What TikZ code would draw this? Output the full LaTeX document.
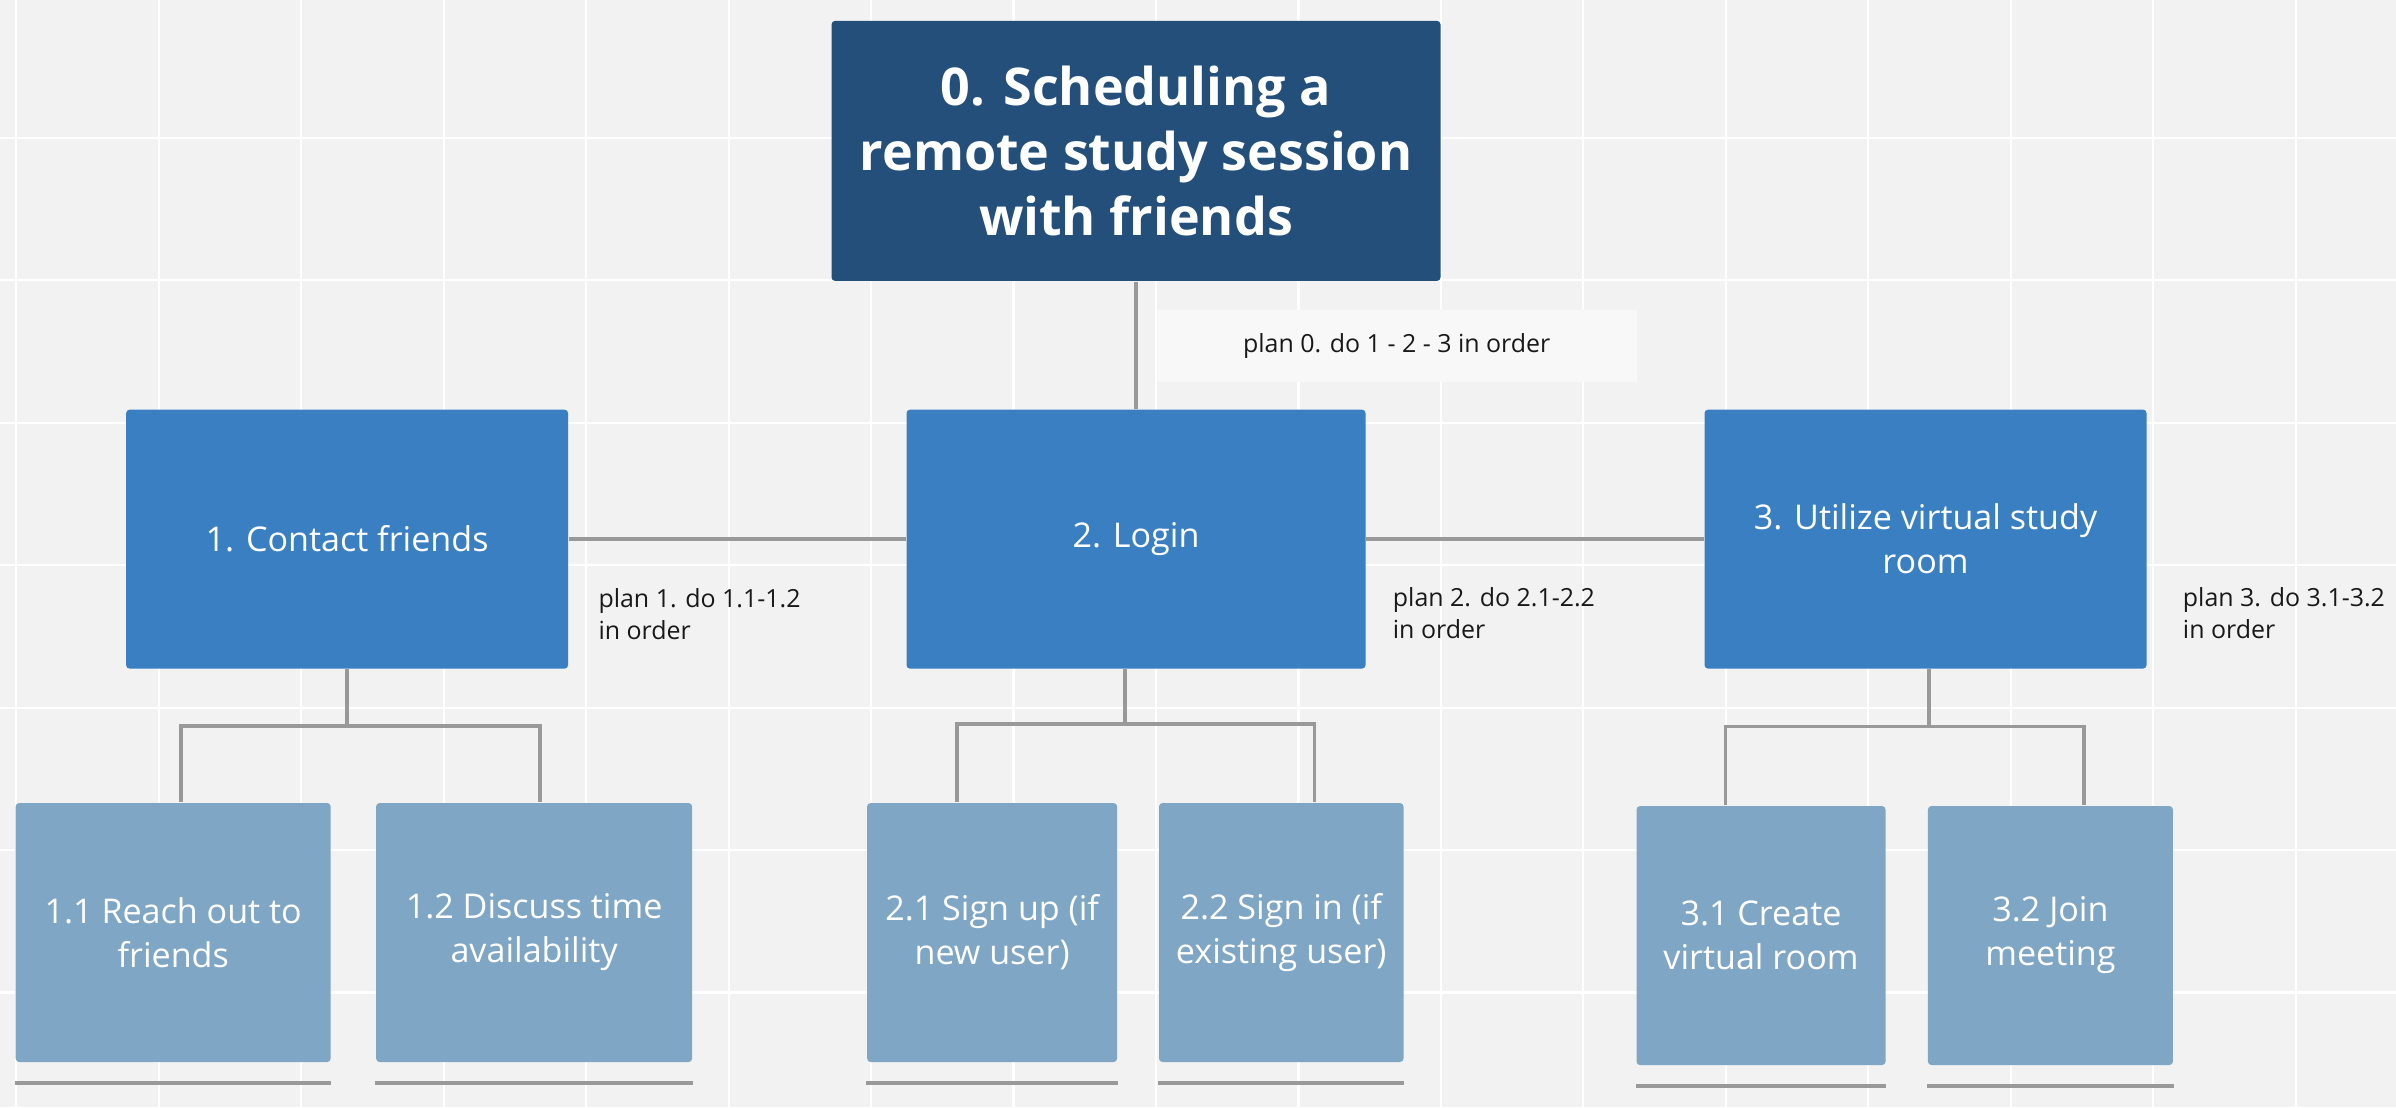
\documentclass[tikz,border=0pt]{standalone}
\usepackage{fontspec}
\setmainfont{Open Sans}
\usepackage{xcolor}
\usepackage{tikz}
\usetikzlibrary{positioning, calc}
\definecolor{rootblue}{HTML}{234F7A}
\definecolor{taskblue}{HTML}{3A7FC2}
\definecolor{subblue}{HTML}{7FA6C4}
\definecolor{linkgray}{HTML}{999999}
\definecolor{canvas}{HTML}{F2F2F2}
\definecolor{planbg}{HTML}{F8F8F8}

\begin{document}
\begin{tikzpicture}[
    node distance=1cm and 1.5cm,
    every node/.style={font=\fontsize{9.7}{12.5}\selectfont},
    box/.style={rectangle, rounded corners=1pt, align=center, text=white,
                inner sep=0pt, minimum height=2.59cm},
    root/.style={box, fill=rootblue, minimum width=6.09cm, minimum height=2.6cm,
                 font=\fontsize{14.8}{18.5}\selectfont\bfseries},
    task/.style={box, fill=taskblue, minimum width=4.42cm},
    subtask/.style={box, fill=subblue},
    link/.style={draw=linkgray, line width=1pt},
    bar/.style={draw=linkgray, line width=1.1pt},
    plan/.style={font=\fontsize{7.1}{9}\selectfont, align=left,
                 inner sep=0pt, text=black!90},
    gridline/.style={draw=white, line width=0.6pt}
]

% Canvas
\useasboundingbox (0,0) rectangle (23.96,-11.07);
\fill[canvas] (0,0) rectangle (23.96,-11.07);
\foreach \i in {0,...,16}
    \draw[gridline] ({0.163+1.4246*\i},0) -- ++(0,-11.07);
\foreach \j in {0,...,6}
    \draw[gridline] (0,{-1.377-1.4246*\j}) -- ++(23.96,0);

% Goal
\node[root] (root) at (11.36,-1.509)
    {0. Scheduling a\\remote study session\\with friends};

% Tasks
\node[task, minimum width=4.59cm, below=1.273cm of root] (login) {2. Login};
\node[task, left=3.37cm of login] (contact) {1. Contact friends};
\node[task, right=3.376cm of login] (room) {3. Utilize virtual study\\room};

% Subtasks
\node[subtask, minimum width=3.15cm, below left=1.33cm and -2.06cm of contact] (reach)
    {1.1 Reach out to\\friends};
\node[subtask, minimum width=3.16cm, right=0.44cm of reach] (discuss)
    {1.2 Discuss time\\availability};
\node[subtask, minimum width=2.5cm, below left=1.33cm and -2.12cm of login] (signup)
    {2.1 Sign up (if\\new user)};
\node[subtask, minimum width=2.445cm, right=0.405cm of signup] (signin)
    {2.2 Sign in (if\\existing user)};
\node[subtask, minimum width=2.49cm, below left=1.36cm and -1.824cm of room] (create)
    {3.1 Create\\virtual room};
\node[subtask, minimum width=2.45cm, right=0.41cm of create] (join)
    {3.2 Join\\meeting};

% Connectors
\draw[link] (root.south) -- (login.north);
\draw[link] (contact) -- (login);
\draw[link] (login) -- (room);

\draw[link] (contact.south) -- ++(0,-0.565) coordinate (jc);
\draw[link] (jc) -| ([xshift=0.08cm]reach.north);
\draw[link] (jc) -| ([xshift=0.06cm]discuss.north);
\draw[link] ([xshift=-0.11cm]login.south) -- ++(0,-0.545) coordinate (jl);
\draw[link] (jl) -| ([xshift=-0.35cm]signup.north);
\draw[link] (jl) -| ([xshift=0.33cm]signin.north);
\draw[link] ([xshift=0.035cm]room.south) -- ++(0,-0.57) coordinate (jr);
\draw[link] (jr) -| ([xshift=-0.355cm]create.north);
\draw[link] (jr) -| ([xshift=0.335cm]join.north);

% Stop bars
\foreach \n in {reach, discuss, signup, signin, create, join}
    \draw[bar] ([yshift=-0.2cm]\n.south west) -- ([yshift=-0.2cm]\n.south east);

% Plans
\node[plan, fill=planbg, minimum width=4.8cm, minimum height=0.72cm, align=center,
      below right=0.273cm and 0.2cm of root.south] (plan0)
    {plan 0. do 1 - 2 - 3 in order};
\node[plan, below right=0.49cm and 0.29cm of contact.east] (plan1)
    {plan 1. do 1.1-1.2\\in order};
\node[plan, below right=0.48cm and 0.26cm of login.east] (plan2)
    {plan 2. do 2.1-2.2\\in order};
\node[plan, below right=0.48cm and 0.35cm of room.east] (plan3)
    {plan 3. do 3.1-3.2\\in order};

\end{tikzpicture}
\end{document}
